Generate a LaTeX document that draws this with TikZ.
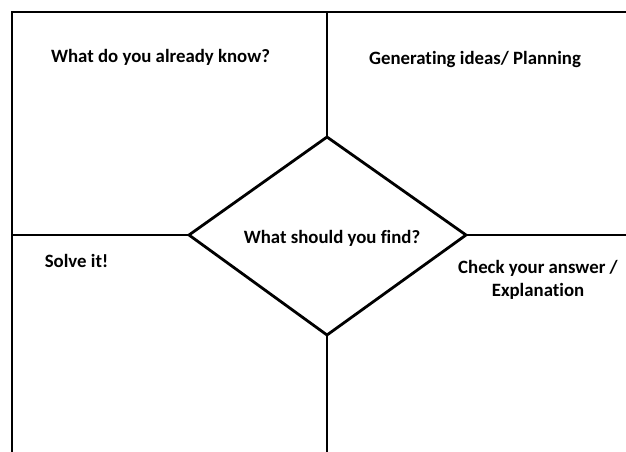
\documentclass[tikz,border=0pt]{standalone}
\usepackage{fontspec}
\setmainfont[Ligatures=NoCommon]{Carlito}
\begin{document}
\begin{tikzpicture}[x=1pt,y=-1pt,
  frame/.style={line width=2.8pt,black},
  lbl/.style={font=\fontsize{18.8}{23}\selectfont\bfseries,inner sep=0pt,align=center}]
\useasboundingbox (0,0) rectangle (626,452);
\coordinate (tl) at (12,12);
\coordinate (tr) at (626,12);
\coordinate (bl) at (12,452);
\coordinate (dt) at (327,137);
\coordinate (dl) at (189,235);
\coordinate (dr) at (466,235);
\coordinate (db) at (327,335);
\coordinate (vt) at (327,12);
\coordinate (vb) at (327,452);
\coordinate (hl) at (12,235);
\coordinate (hr) at (626,235);
\draw[frame] (bl) -- (tl) -- (tr);
\draw[frame] (vt) -- (dt);
\draw[frame] (db) -- (vb);
\draw[frame] (hl) -- (dl);
\draw[frame] (dr) -- (hr);
\draw[frame,line join=miter] (dt) -- (dr) -- (db) -- (dl) -- cycle;
\node[lbl] (a) at (160.5,57) {What do you already know?};
\node[lbl] (b) at (475,59) {Generating ideas/ Planning};
\node[lbl] (c) at (332,238) {What should you find?};
\node[lbl] (d) at (76.5,261) {Solve it!};
\node[lbl] (e) at (538,279.5) {Check your answer /\\Explanation};
\end{tikzpicture}
\end{document}
